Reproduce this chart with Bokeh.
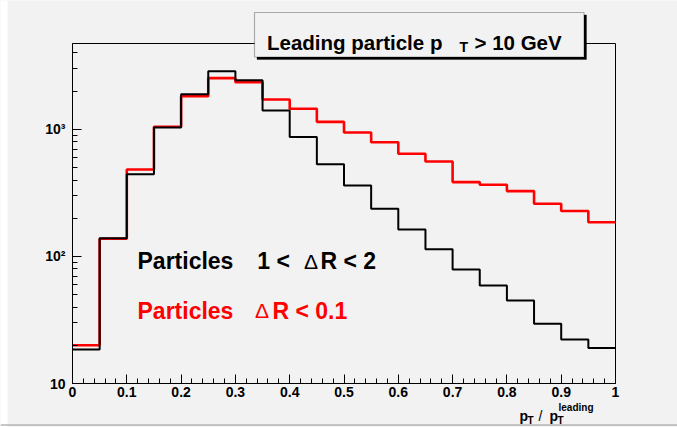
import math
from bokeh.plotting import figure
from bokeh.models import Range1d, Label, FixedTicker, BoxAnnotation, Span
from bokeh.embed import file_html
from bokeh.resources import INLINE

# ---- data -------------------------------------------------------------
bin_edges = [0.0, 0.05, 0.1, 0.15, 0.2, 0.25, 0.3, 0.35, 0.4, 0.45, 0.5,
             0.55, 0.6, 0.65, 0.7, 0.75, 0.8, 0.85, 0.9, 0.95, 1.0]
far_particles = [18.5, 139, 443, 1037, 1897, 2877, 2443, 1413, 871, 533,
                 362, 238, 163, 114, 79, 59, 45, 29.6, 22.2, 19]        # 1 < dR < 2
near_particles = [20, 138, 484, 1050, 1828, 2535, 2355, 1722, 1455, 1148,
                  946, 794, 643, 560, 385, 367, 327, 260, 228, 186]     # dR < 0.1
x_ticks = [0, 0.1, 0.2, 0.3, 0.4, 0.5, 0.6, 0.7, 0.8, 0.9, 1]
x_tick_labels = ["0", "0.1", "0.2", "0.3", "0.4", "0.5", "0.6", "0.7", "0.8", "0.9", "1"]
y_ticks = [10, 100, 1000]
y_tick_labels = ["10", "10\u00b2", "10\u00b3"]

X_MIN, X_MAX = 0.0, 1.0
Y_MIN, Y_MAX = 10.0, 4750.0

W, H = 677, 427
FL, FR, FT, FB = 72, 615, 43, 383   # pixel box of the histogram frame
BG = "#f2f2f2"
FONT = "Liberation Sans"


def dx(px):
    return X_MIN + (px - FL) / (FR - FL) * (X_MAX - X_MIN)


def dy(py):
    lo, hi = math.log10(Y_MIN), math.log10(Y_MAX)
    return 10 ** (lo + (FB - py) / (FB - FT) * (hi - lo))


p = figure(width=W, height=H, output_backend="svg", toolbar_location=None,
           x_range=Range1d(dx(0), dx(W)), y_range=Range1d(dy(H), dy(0)),
           y_axis_type="log",
           min_border_left=0, min_border_right=0,
           min_border_top=0, min_border_bottom=0)
p.background_fill_color = BG
p.border_fill_color = BG
p.outline_line_color = None
p.xgrid.visible = False
p.ygrid.visible = False

# ---- axes (drawn at the histogram frame edges) -------------------------------
x_minor = [round(t + k * 0.02, 2) for t in x_ticks[:-1] for k in range(1, 5)]
y_minor = [m * t for t in y_ticks for m in range(2, 10) if m * t < Y_MAX]
xa = p.xaxis[0]
xa.ticker = FixedTicker(ticks=x_ticks, minor_ticks=x_minor)
xa.major_label_overrides = {t: s for t, s in zip(x_ticks, x_tick_labels)}
xa.fixed_location = Y_MIN
xa.bounds = (X_MIN, X_MAX)
ya = p.yaxis[0]
ya.ticker = FixedTicker(ticks=y_ticks, minor_ticks=y_minor)
ya.major_label_overrides = {t: s for t, s in zip(y_ticks, y_tick_labels)}
ya.fixed_location = X_MIN
ya.bounds = (Y_MIN, Y_MAX)
for ax in (xa, ya):
    ax.axis_line_color = "black"
    ax.axis_line_width = 1
    ax.major_tick_in = 9
    ax.major_tick_out = 0
    ax.minor_tick_in = 5
    ax.minor_tick_out = 0
    ax.major_tick_line_color = "black"
    ax.minor_tick_line_color = "black"
    ax.major_label_text_font = FONT
    ax.major_label_text_font_style = "bold"
    ax.major_label_text_font_size = "14px"
    ax.major_label_text_color = "black"
xa.major_label_standoff = 3
ya.major_label_standoff = 7

# histogram frame (top / right edges)
p.quad(left=[X_MIN], right=[X_MAX], bottom=[Y_MIN], top=[Y_MAX],
       fill_color=None, line_color="black", line_width=1)

# page edges
p.add_layout(BoxAnnotation(right=dx(7), fill_color="white", fill_alpha=1.0,
                           line_color=None, level="underlay"))
p.add_layout(Span(location=dy(424.5), dimension="width", line_color="#b4b4b4",
                  line_width=1.5))

# ---- histograms -----------------------------------------------------------
p.step(bin_edges, near_particles + [near_particles[-1]], mode="after",
       line_color="#ff0000", line_width=2.6)
p.step(bin_edges, far_particles + [far_particles[-1]], mode="after",
       line_color="black", line_width=2)


def lab(text, px, py, size, color="black", style="bold", align="left", baseline="alphabetic"):
    p.add_layout(Label(x=dx(px), y=dy(py), text=text, text_font=FONT,
                       text_font_size=f"{size}px", text_font_style=style,
                       text_color=color, text_align=align, text_baseline=baseline))


# ---- title box ------------------------------------------------------------
p.add_layout(BoxAnnotation(left=dx(256.5), right=dx(586), top=dy(14.5), bottom=dy(59),
                           fill_color="black", fill_alpha=1.0, line_color="black"))
p.add_layout(BoxAnnotation(left=dx(254), right=dx(583.5), top=dy(12), bottom=dy(56.5),
                           fill_color=BG, fill_alpha=1.0, line_color="black",
                           line_width=1.2))
lab("Leading particle p", 266.5, 42.3, 20.5)
lab("T", 459, 46, 14)
lab("> 10 GeV", 474, 42.3, 20.5)

# ---- legend texts -----------------------------------------------------------
lab("Particles", 137, 260.7, 23)
lab("1 <", 256.7, 260.7, 23)
lab("\u0394", 303.5, 260.7, 21, style="normal")
lab("R < 2", 320, 260.7, 23)
lab("Particles", 137, 310, 23, color="#ff0000")
lab("\u0394", 254.5, 310, 21, color="#ff0000", style="normal")
lab("R < 0.1", 272, 310, 23, color="#ff0000")

# ---- x-axis title -------------------------------------------------------------
lab("p", 519, 415, 14)
lab("T", 527, 420, 10)
lab("/", 538, 415, 14, style="normal")
lab("p", 549, 415, 14)
lab("T", 557, 420, 10)
lab("leading", 558, 407, 10)

open("out.html", "w").write(file_html(p, INLINE))
